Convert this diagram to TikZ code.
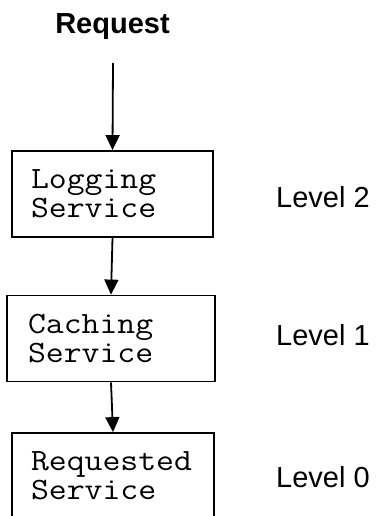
\documentclass[tikz,border=0pt]{standalone}
\usepackage{fontspec}
\usetikzlibrary{arrows.meta}
\newfontfamily\labelfont{Liberation Sans}
\newfontfamily\boxfont[FakeStretch=1.12]{Latin Modern Mono}
\tikzset{
  servicebox/.style={draw, line width=1.8pt, minimum height=86pt,
    inner xsep=19pt, inner ysep=0pt, text width=164pt, align=left,
    font=\boxfont\fontsize{31pt}{29pt}\selectfont},
  levellabel/.style={anchor=base west, inner sep=0pt,
    font=\labelfont\fontsize{29pt}{32pt}\selectfont},
  flow/.style={line width=1.8pt, -{Triangle[width=14pt,length=15pt]}}
}
\begin{document}
\begin{tikzpicture}[x=1pt, y=-1pt]
  \useasboundingbox (0,0) rectangle (378,516);
  \fill[white] (0,0) rectangle (378,516);

  % incoming request
  \node[anchor=base, inner sep=0pt,
        font=\labelfont\bfseries\fontsize{29pt}{32pt}\selectfont]
        (reqtitle) at (112.5,34) {Request};
  \coordinate (reqstart) at (113,63);

  % service chain
  \node[servicebox, minimum width=201pt, text width=163pt] (logging) at (112.5,194) {Logging\\Service};
  \node[servicebox, minimum width=204pt, text width=166pt, inner xsep=21pt] (caching) at (111,338.5) {Caching\\Service};
  \node[servicebox, minimum width=202pt] (requested) at (113,476) {Requested\\Service};

  % levels
  \node[levellabel] (lvl2) at (276,207) {Level 2};
  \node[levellabel] (lvl1) at (276,345.5) {Level 1};
  \node[levellabel] (lvl0) at (276,487) {Level 0};

  % connectors
  \draw[flow] (reqstart) -- (logging.north);
  \draw[flow] (logging.south) -- (caching.north);
  \draw[flow] (caching.south) -- (requested.north);
\end{tikzpicture}
\end{document}
